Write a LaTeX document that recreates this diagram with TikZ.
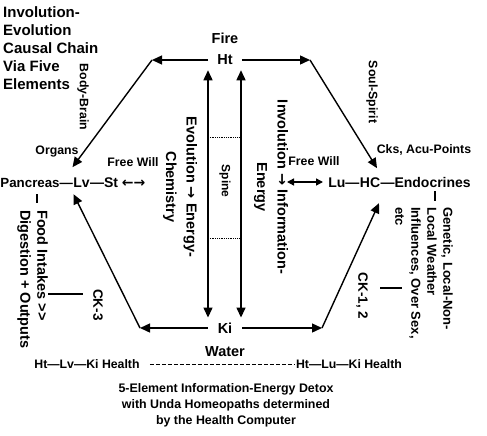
\documentclass[tikz,border=0pt]{standalone}
\usepackage{fontspec}
\setmainfont{Liberation Sans}
\newfontfamily\arrfont{DejaVu Sans}
\usetikzlibrary{arrows.meta,calc}
\newcommand{\fz}[2]{\fontsize{#1}{#2}\selectfont}
\newcommand{\rar}{{\arrfont\bfseries →}}
\newcommand{\lar}{{\arrfont\bfseries ←}}
\tikzset{
  ttl/.style={font=\bfseries\fz{15}{18.1}, inner sep=0pt},
  elem/.style={font=\bfseries\fz{14.5}{17}, inner sep=1pt},
  rowtxt/.style={font=\bfseries\fz{14}{17}, inner sep=0pt},
  rot/.style={font=\bfseries\fz{14.5}{20.5}, inner sep=1pt, rotate=-90},
  lbl/.style={font=\bfseries\fz{12.3}{15}, inner sep=1pt},
  arr/.style={-{Triangle[length=10pt,width=9pt]}, line width=1.4pt},
  darr/.style={{Triangle[length=10pt,width=9pt]}-{Triangle[length=10pt,width=9pt]}, line width=1.4pt},
  sarr/.style={{Triangle[length=7pt,width=7pt]}-{Triangle[length=7pt,width=7pt]}, line width=1.4pt},
  ln/.style={line width=1.2pt},
  dots/.style={densely dotted, line width=0.8pt},
  dsh/.style={dash pattern=on 4pt off 2pt, line width=0.9pt},
}
\begin{document}
\begin{tikzpicture}[x=1pt,y=-1pt]
\useasboundingbox (0,0) rectangle (487,436);
\fill[white] (0,0) rectangle (487,436);

% title
\node[ttl, anchor=north west, align=left] (title) at (3,6) {Involution-\\Evolution\\Causal Chain\\Via Five\\Elements};

% elements
\node[elem] (fire) at (225,38) {Fire};
\node[elem, inner xsep=9pt] (ht) at (225,60) {Ht};
\node[elem, inner xsep=10pt] (ki) at (225,328) {Ki};
\node[elem] (water) at (225,352) {Water};

% rows
\node[rowtxt, anchor=base] (lv) at (81.5,187) {Lv};
\node[rowtxt, font=\bfseries\fz{13.3}{17}, anchor=base east] (pan) at (lv.base west) {Pancreas—};
\node[rowtxt, anchor=base west] (st) at (lv.base east) {—St \lar\rar};
\node[rowtxt, anchor=base] (hc) at (370,187) {HC};
\node[rowtxt, anchor=base east] (lu) at (hc.base west) {Lu—};
\node[rowtxt, anchor=base west] (endo) at (hc.base east) {—Endocrines};

% corners
\coordinate (TL) at (152,60);
\coordinate (TR) at (310,60);
\coordinate (BL) at (140,328);
\coordinate (BR) at (322,328);

\draw[arr] (ht) -- (TL);
\draw[arr] (TL) -- ($(lv.center)+(-9,-15)$);
\draw[arr] (ht) -- (TR);
\draw[arr] (TR) -- ($(hc.center)+(7,-14)$);
\draw[arr] (ki) -- (BL);
\draw[arr] (BL) -- ($(lv.center)+(-8,12)$);
\draw[arr] (ki) -- (BR);
\draw[arr] (BR) -- ($(hc.center)+(9,21)$);

% spine
\draw[darr] ($(ht.south)+(-17,4)$) -- ($(ki.north)+(-17,-4)$);
\draw[darr] ($(ht.south)+(16,4)$) -- ($(ki.north)+(16,-4)$);
\draw[dots] (208,137) -- (241,137);
\draw[dots] (208,238) -- (241,238);
\node[font=\bfseries\fz{12}{14}, inner sep=1pt, rotate=-90] (spine) at (225,181) {Spine};

% rotated texts
\node[rot, align=center] (evo) at (180,187) {Evolution \rar{} Energy-\\Chemistry};
\node[rot, align=center] (invo) at (271,187) {Involution \rar{} Information-\\Energy};
\node[lbl, rotate=-90] (bb) at (83,97) {Body-Brain};
\node[lbl, rotate=-90] (ss) at (372,92) {Soul-Spirit};

% labels
\node[lbl] (org) at (57,152) {Organs};
\node[lbl] (cks) at (424,150) {Cks, Acu-Points};
\node[lbl] (fwl) at (133,162) {Free Will};
\node[lbl] (fwr) at (314,161) {Free Will};
\draw[sarr] (287,182) -- (323,182);

% right side
\draw[ln] (435,191) -- (435,201);
\node[font=\bfseries\fz{13}{16}, inner sep=1pt, rotate=-90, anchor=north west, align=left] (gen) at (454,206) {Genetic, Local-Non-\\Local Weather\\Influences, Over Sex,\\etc};
\node[font=\bfseries\fz{13.5}{16}, inner sep=1pt, rotate=-90] (ck12) at (362,296) {CK-1, 2};
\draw[ln] (380,288) -- (402,288);

% left side
\draw[ln] (37,194) -- (37,203);
\node[font=\bfseries\fz{14.5}{17}, inner sep=1pt, rotate=-90, anchor=north west, align=left] (food) at (49,209) {Food Intakes >{}>\\Digestion + Outputs};
\node[font=\bfseries\fz{13.5}{16}, inner sep=1pt, rotate=-90] (ck3) at (98,305) {CK-3};
\draw[ln] (48,294) -- (83,294);

% bottom
\node[lbl] (hlk) at (87,364) {Ht—Lv—Ki Health};
\node[lbl] (hluk) at (349,364) {Ht—Lu—Ki Health};
\draw[dsh, shorten <=9pt] (hlk.east) -- (hluk.west);
\node[font=\bfseries\fz{12.4}{16}, inner sep=1pt, align=center] (detox) at (226,405) {5-Element Information-Energy Detox\\with Unda Homeopaths determined\\by the Health Computer};
\end{tikzpicture}
\end{document}
